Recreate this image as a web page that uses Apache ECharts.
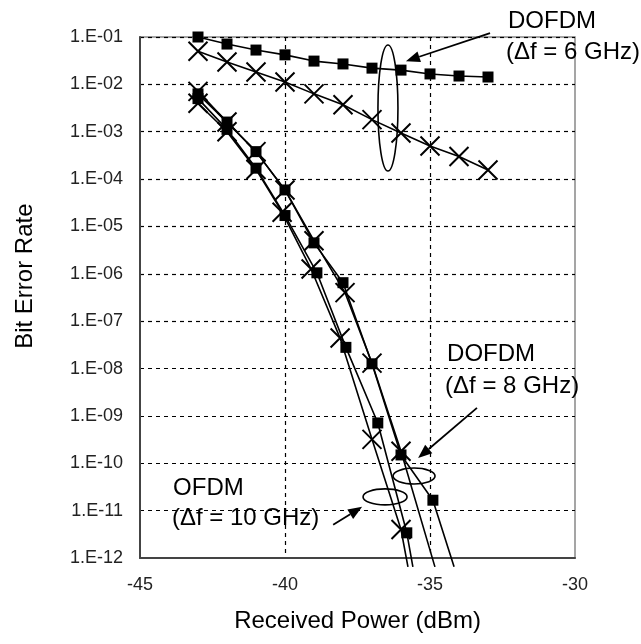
<!DOCTYPE html>
<html><head><meta charset="utf-8">
<script src="https://cdn.jsdelivr.net/npm/echarts@6/dist/echarts.min.js"></script>
<style>html,body{margin:0;padding:0;background:#fff}#c{width:641px;height:644px}</style>
</head><body><div id="c"></div>
<script>
// ---- data ----
const xTicks = [-45, -40, -35, -30];
const pwr6 = [-43, -42, -41, -40, -39, -38, -37, -36, -35, -34, -33];
const ber6Sq = [0.1, 0.071, 0.053, 0.042, 0.031, 0.027, 0.022, 0.020, 0.0166, 0.015, 0.0143];
const ber6X  = [0.05, 0.0296, 0.0182, 0.0112, 0.0063, 0.0037, 0.0018, 0.00094, 0.0005, 0.0003, 0.000155];

const pwrOfdmSq = [-43, -42, -41, -40, -38.9, -37.9, -36.8, -35.8];
const berOfdmSq = [5.0e-3, 1.12e-3, 1.7e-4, 1.7e-5, 1.05e-6, 2.8e-8, 7.1e-10, 3.4e-12];
const tailOfdmSq = [-35.59, 6.5e-13];

const pwrOfdmX = [-43, -42, -41, -40.1, -39.1, -38.1, -37, -36];
const berOfdmX = [4.0e-3, 1.0e-3, 1.6e-4, 2.0e-5, 1.26e-6, 4.4e-8, 3.2e-10, 4.0e-12];
const tailOfdmX = [-35.76, 6.5e-13];

const pwrD8Sq = [-43, -42, -41, -40, -39, -38, -37, -36, -34.9];
const berD8Sq = [6.3e-3, 1.6e-3, 3.8e-4, 5.9e-5, 4.5e-6, 6.5e-7, 1.26e-8, 1.5e-10, 1.66e-11];
const tailD8Sq = [-34.17, 6.5e-13];

const pwrD8X = [-43, -42, -41, -40, -39, -37.93, -37, -36];
const berD8X = [7.1e-3, 1.6e-3, 3.8e-4, 5.9e-5, 5.0e-6, 4.0e-7, 1.3e-8, 1.8e-10];
const tailD8X = [-34.83, 6.5e-13];

// annotations in data coordinates
const labels = [
  {text: 'DOFDM', at: [-32.31, -0.68]},
  {text: '(\u0394f = 6 GHz)', at: [-32.38, -1.32]},
  {text: 'DOFDM', at: [-34.41, -7.71]},
  {text: '(\u0394f = 8 GHz)', at: [-34.48, -8.37]},
  {text: 'OFDM', at: [-43.86, -10.52]},
  {text: '(\u0394f = 10 GHz)', at: [-43.9, -11.16]}
];
const loops = [
  {at: [-36.45, -2.5], rx: 10, ry: 63},
  {at: [-35.55, -10.27], rx: 21, ry: 8},
  {at: [-36.55, -10.71], rx: 22, ry: 8}
];
const arrows = [
  {from: [-32.93, -0.92], to: [-35.83, -1.51]},
  {from: [-33.38, -8.83], to: [-35.41, -9.89]},
  {from: [-38.34, -11.3], to: [-37.34, -10.92]}
];

const FONT = '"Liberation Sans", Arial, sans-serif';
const chart = echarts.init(document.getElementById('c'), null, {renderer: 'canvas'});

function pairs(xs, ys) { return xs.map((x, i) => [x, ys[i]]); }
function withTail(xs, ys, tail) { const d = pairs(xs, ys); d.push({value: tail, symbol: 'none'}); return d; }
const SQ = {symbol: 'rect', symbolSize: 11, bw: 0};
const CR = {symbol: 'path://M0,0L10,10M10,0L0,10', symbolSize: 19, bw: 2};
function mk(name, data, sym) {
  return {
    name, type: 'line', data, clip: false, symbol: sym.symbol, symbolSize: sym.symbolSize,
    showAllSymbol: true, silent: true,
    lineStyle: {color: '#000', width: 1.6},
    itemStyle: {color: '#000', borderColor: '#000', borderWidth: sym.bw},
    emphasis: {disabled: true}
  };
}

chart.setOption({
  animation: false,
  grid: {left: 140, right: 66, top: 37, bottom: 86, show: true, borderColor: '#888', borderWidth: 1.5},
  xAxis: {
    type: 'value', min: -45, max: -30, interval: 5,
    axisLine: {show: true, onZero: false, lineStyle: {color: '#444', width: 2}},
    axisTick: {show: false},
    axisLabel: {color: '#222', fontSize: 18, fontFamily: FONT, margin: 18,
      formatter: v => xTicks.includes(v) ? String(v) : ''},
    splitLine: {show: true, showMinLine: false, showMaxLine: false, lineStyle: {color: '#000', type: [4, 4], width: 1.2}},
    name: 'Received Power (dBm)', nameLocation: 'middle', nameGap: 51,
    nameTextStyle: {fontSize: 24, color: '#000', fontFamily: FONT}
  },
  yAxis: {
    type: 'log', logBase: 10, min: 1e-12, max: 0.1, interval: 1,
    axisLine: {show: true, lineStyle: {color: '#444', width: 2}},
    axisTick: {show: false},
    axisLabel: {color: '#222', fontSize: 18, fontFamily: FONT, margin: 17,
      formatter: v => { const e = Math.round(Math.log10(v)); return '1.E-' + String(-e).padStart(2, '0'); }},
    splitLine: {show: true, showMinLine: false, showMaxLine: false, lineStyle: {color: '#000', type: [4, 4], width: 1.2}}
  },
  series: [
    mk('DOFDM 6 sq', pairs(pwr6, ber6Sq), SQ),
    mk('DOFDM 6 x', pairs(pwr6, ber6X), CR),
    mk('OFDM sq', withTail(pwrOfdmSq, berOfdmSq, tailOfdmSq), SQ),
    mk('OFDM x', withTail(pwrOfdmX, berOfdmX, tailOfdmX), CR),
    mk('DOFDM 8 sq', withTail(pwrD8Sq, berD8Sq, tailD8Sq), SQ),
    mk('DOFDM 8 x', withTail(pwrD8X, berD8X, tailD8X), CR)
  ]
});

function px(p) { return chart.convertToPixel({gridIndex: 0}, [p[0], Math.pow(10, p[1])]); }
const g = [];
// y axis title (slightly above the plot's vertical centre, as in the reference)
const yt = px([-45, -6.05]);
g.push({type: 'text', silent: true, x: 25, y: yt[1], rotation: Math.PI / 2,
  style: {text: 'Bit Error Rate', x: 0, y: 0, fontSize: 24, fontFamily: FONT, fill: '#000', align: 'center', verticalAlign: 'middle'}});
labels.forEach(l => {
  const p = px(l.at);
  g.push({type: 'text', silent: true, style: {text: l.text, x: p[0], y: p[1], fontSize: 24, fontFamily: FONT, fill: '#000', align: 'left', verticalAlign: 'middle'}});
});
loops.forEach(o => {
  const p = px(o.at);
  g.push({type: 'ellipse', silent: true, shape: {cx: p[0], cy: p[1], rx: o.rx, ry: o.ry}, style: {fill: 'none', stroke: '#000', lineWidth: 1.6}});
});
arrows.forEach(a => {
  const f = px(a.from), t = px(a.to);
  const dx = t[0] - f[0], dy = t[1] - f[1], len = Math.hypot(dx, dy);
  const ux = dx / len, uy = dy / len, L = 14, W = 5.5;
  const bx = t[0] - ux * L, by = t[1] - uy * L;
  g.push({type: 'line', silent: true, shape: {x1: f[0], y1: f[1], x2: bx, y2: by}, style: {stroke: '#000', lineWidth: 1.8}});
  g.push({type: 'polygon', silent: true, shape: {points: [[t[0], t[1]], [bx - uy * W, by + ux * W], [bx + uy * W, by - ux * W]]}, style: {fill: '#000'}});
});
chart.setOption({graphic: g});
</script>
</body></html>
